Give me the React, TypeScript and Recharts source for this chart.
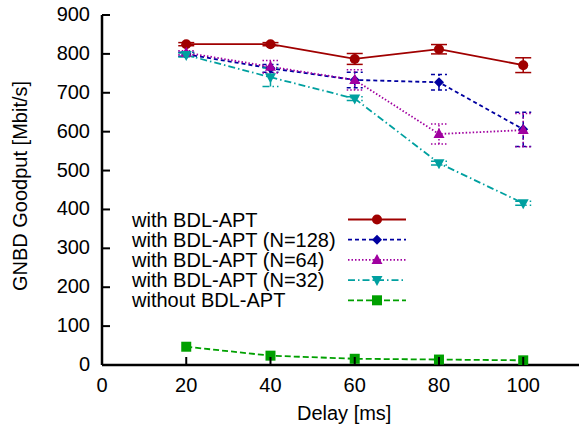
import { LineChart, Line, XAxis, YAxis, ErrorBar } from "recharts"

// delay [ms] on the x axis
const delays = [20, 40, 60, 80, 100]

// goodput in Mbit/s, with error (half-range)
const withApt = [825, 825, 787, 812, 771]
const withAptErr = [4, 4, 14, 12, 19]
const apt128 = [799, 763, 733, 727, 606]
const apt128Err = [5, 10, 20, 20, 44]
const apt64 = [803, 767, 733, 594, 604]
const apt64Err = [5, 16, 26, 26, 43]
const apt32 = [797, 740, 685, 519, 416]
const apt32Err = [5, 24, 5, 5, 5]
const withoutApt = [47, 24, 16, 14, 12]

const xTicks = [0, 20, 40, 60, 80, 100]
const yTicks = [0, 100, 200, 300, 400, 500, 600, 700, 800, 900]

const FONT = "'Liberation Sans', Arial, sans-serif"

const data = delays.map((d, i) => ({
  delay: d,
  withApt: withApt[i],
  withAptErr: withAptErr[i],
  apt128: apt128[i],
  apt128Err: apt128Err[i],
  apt64: apt64[i],
  apt64Err: apt64Err[i],
  apt32: apt32[i],
  apt32Err: apt32Err[i],
  withoutApt: withoutApt[i],
}))

type Shape = "circle" | "diamond" | "up" | "down" | "square"

const Marker = ({ cx, cy, shape, color }: { cx: number; cy: number; shape: Shape; color: string }) => {
  if (shape === "circle") return <circle cx={cx} cy={cy} r={5} fill={color} />
  if (shape === "diamond")
    return <polygon points={`${cx},${cy - 5} ${cx + 5},${cy} ${cx},${cy + 5} ${cx - 5},${cy}`} fill={color} />
  if (shape === "up")
    return <polygon points={`${cx},${cy - 6} ${cx + 5.5},${cy + 4} ${cx - 5.5},${cy + 4}`} fill={color} />
  if (shape === "down")
    return <polygon points={`${cx - 5.5},${cy - 4} ${cx + 5.5},${cy - 4} ${cx},${cy + 6}`} fill={color} />
  return <rect x={cx - 5} y={cy - 5} width={10} height={10} fill={color} />
}

const series = [
  { key: "withApt", err: "withAptErr", name: "with BDL-APT", color: "#a00000", dash: undefined, shape: "circle" as Shape },
  { key: "apt128", err: "apt128Err", name: "with BDL-APT (N=128)", color: "#0000a0", dash: "4 3", shape: "diamond" as Shape },
  { key: "apt64", err: "apt64Err", name: "with BDL-APT (N=64)", color: "#a000a0", dash: "1.5 2", shape: "up" as Shape },
  { key: "apt32", err: "apt32Err", name: "with BDL-APT (N=32)", color: "#00a0a0", dash: "7 3 1.5 3", shape: "down" as Shape },
  { key: "withoutApt", err: undefined, name: "without BDL-APT", color: "#00a000", dash: "6 3", shape: "square" as Shape },
]

const BottomTick = (props: any) => {
  const { x, y, payload } = props
  return (
    <g>
      <line x1={x} x2={x} y1={y} y2={y - 8} stroke="#000" strokeWidth={2} />
      <text x={x} y={y + 27} textAnchor="middle" fontSize={20} fontFamily={FONT} fill="#000">
        {payload.value}
      </text>
    </g>
  )
}

const TopTick = (props: any) => {
  const { x, y } = props
  return <line x1={x} x2={x} y1={y} y2={y + 8} stroke="#000" strokeWidth={2} />
}

const LeftTick = (props: any) => {
  const { x, y, payload } = props
  return (
    <g>
      <line x1={x} x2={x + 8} y1={y} y2={y} stroke="#000" strokeWidth={2} />
      <text x={x - 12} y={y + 6} textAnchor="end" fontSize={20} fontFamily={FONT} fill="#000">
        {payload.value}
      </text>
    </g>
  )
}

const RightTick = (props: any) => {
  const { x, y } = props
  return <line x1={x} x2={x - 8} y1={y} y2={y} stroke="#000" strokeWidth={2} />
}

const KeyBox = () => (
  <svg width={579} height={430} style={{ position: "absolute", left: 0, top: 0, pointerEvents: "none" }}>
    {series.map((s, i) => {
      const y = 219.5 + i * 20.2
      return (
        <g key={s.key}>
          <text x={132} y={y + 7} fontSize={20} fontFamily={FONT} fill="#000">
            {s.name}
          </text>
          <line x1={348} x2={406} y1={y} y2={y} stroke={s.color} strokeWidth={1.8} strokeDasharray={s.dash} />
          <Marker cx={377} cy={y} shape={s.shape} color={s.color} />
        </g>
      )
    })}
  </svg>
)

export default function App() {
  return (
    <div
      style={{
        position: "absolute",
        left: 0,
        top: 0,
        width: 579,
        height: 430,
        overflow: "hidden",
        background: "#fff",
      }}
    >
      <LineChart width={600} height={430} data={data} margin={{ top: 15, right: 13.6, left: 0, bottom: 0 }}>
        <XAxis
          dataKey="delay"
          type="number"
          domain={[0, 115]}
          ticks={xTicks}
          allowDataOverflow
          height={65}
          tickSize={0}
          tickMargin={0}
          tickLine={false}
          axisLine={{ stroke: "#000", strokeWidth: 2.5 }}
          tick={<BottomTick />}
          label={{
            content: (p: any) => (
              <text
                x={p.viewBox.x + p.viewBox.width / 2}
                y={420}
                textAnchor="middle"
                fontSize={20}
                fontFamily={FONT}
                fill="#000"
              >
                Delay [ms]
              </text>
            ),
          }}
        />
        <XAxis
          xAxisId="top"
          orientation="top"
          dataKey="delay"
          type="number"
          domain={[0, 115]}
          ticks={[20, 40, 60, 80, 100]}
          allowDataOverflow
          height={0}
          tickSize={0}
          tickMargin={0}
          tickLine={false}
          axisLine={{ stroke: "#000", strokeWidth: 2 }}
          tick={<TopTick />}
        />
        <YAxis
          type="number"
          domain={[0, 900]}
          ticks={yTicks}
          allowDataOverflow
          width={102}
          tickSize={0}
          tickMargin={0}
          tickLine={false}
          axisLine={{ stroke: "#000", strokeWidth: 2.5 }}
          tick={<LeftTick />}
          label={{
            content: (p: any) => (
              <text
                transform={`translate(27, ${p.viewBox.y + p.viewBox.height / 2 - 4}) rotate(-90)`}
                textAnchor="middle"
                fontSize={20}
                fontFamily={FONT}
                fill="#000"
              >
                GNBD Goodput [Mbit/s]
              </text>
            ),
          }}
        />
        <YAxis
          yAxisId="right"
          orientation="right"
          type="number"
          domain={[0, 900]}
          ticks={yTicks.slice(1)}
          allowDataOverflow
          width={0}
          tickSize={0}
          tickMargin={0}
          tickLine={false}
          axisLine={{ stroke: "#000", strokeWidth: 2 }}
          tick={<RightTick />}
        />
        {series.map((s) => (
          <Line
            key={s.key}
            type="linear"
            dataKey={s.key}
            name={s.name}
            stroke={s.color}
            strokeWidth={1.8}
            strokeDasharray={s.dash}
            isAnimationActive={false}
            dot={(p: any) => (
              <Marker key={`${s.key}-${p.index}`} cx={p.cx} cy={p.cy} shape={s.shape} color={s.color} />
            )}
            activeDot={false}
          >
            {s.err && (
              <ErrorBar
                dataKey={s.err}
                width={8}
                stroke={s.color}
                strokeWidth={1.5}
                strokeDasharray={s.dash}
                isAnimationActive={false}
              />
            )}
          </Line>
        ))}
      </LineChart>
      <KeyBox />
    </div>
  )
}
